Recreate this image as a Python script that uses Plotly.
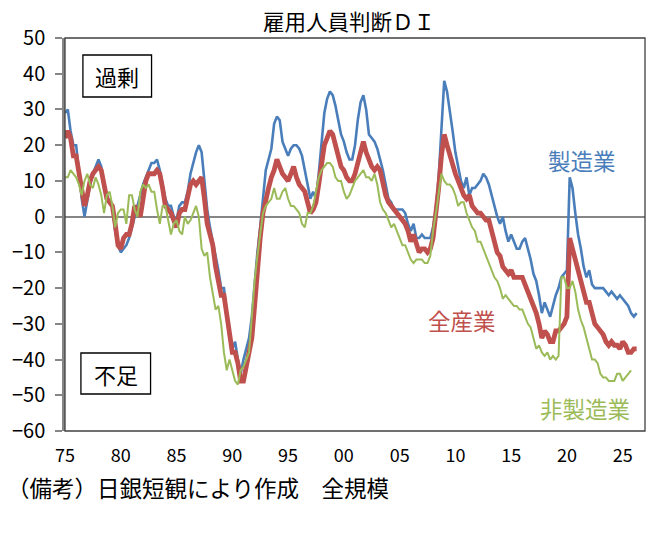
import plotly.graph_objects as go

# Quarterly categories (1975Q1 ...)
START_YEAR = 1975

# 製造業 (manufacturing) employment DI, quarterly from 1975Q1
manufacturing = [
    29, 30, 24, 20, 20, 13, 5, 0, 5, 9,
    12, 14, 16, 14, 8, 6, 4, 3, -4, -8,
    -10, -9, -8, -6, -3, 0, 3, 6, 9, 11,
    13, 15, 15, 16, 13, 9, 5, 3, 3, 0,
    -1, 3, 4, 4, 7, 12, 15, 18, 20, 18,
    10, 2, -3, -7, -10, -15, -20, -20, -27, -34,
    -37, -35, -40, -44, -40, -37, -34, -28, -18, -10,
    -3, 6, 13, 16, 19, 26, 28, 27, 21, 19,
    17, 19, 20, 20, 19, 17, 13, 9, 5, 7,
    5, 12, 20, 29, 33, 35, 34, 31, 27, 23,
    21, 18, 16, 16, 20, 27, 32, 34, 30, 23,
    22, 21, 19, 16, 13, 9, 5, 4, 2, 2,
    2, 2, 1, -2, -4, -2, -6, -6, -5, -6,
    -6, -6, -3, 2, 11, 25, 38, 35, 30, 24,
    18, 14, 10, 8, 11, 6, 8, 8, 9, 10,
    12, 11, 9, 6, 3, 0, -2, 0, -4, -7,
    -5, -7, -9, -9, -7, -6, -9, -12, -16, -18,
    -22, -27, -24, -26, -28, -25, -22, -20, -17, -16,
    -15, 11, 8, 1, -5, -9, -14, -17, -15, -19,
    -20, -20, -20, -20, -21, -22, -21, -22, -23, -22,
    -23, -24, -25, -27, -28, -27,
]

# 全産業 (all industries)
all_industries = [
    22, 24, 22, 17, 17, 12, 7, 3, 6, 10,
    12, 13, 14, 13, 9, 5, 4, 3, -2, -8,
    -9, -6, -5, -5, -2, 3, 2, 0, 5, 10,
    12, 12, 12, 13, 12, 8, 3, 2, 1, -1,
    -3, 1, 2, 2, 5, 9, 10, 9, 10, 11,
    5, -2, -5, -8, -14, -19, -22, -22, -27, -34,
    -38, -38, -41, -46, -46, -42, -38, -34, -25, -14,
    -6, 1, 5, 8, 11, 13, 16, 14, 12, 11,
    10, 12, 14, 11, 9, 8, 7, 4, 1, 2,
    4, 9, 16, 20, 22, 24, 23, 20, 16, 14,
    13, 11, 10, 10, 12, 15, 18, 21, 18, 16,
    14, 13, 14, 13, 9, 6, 4, 3, 2, 1,
    0, -1, -2, -4, -7, -5, -8, -10, -9, -9,
    -10, -9, -6, 0, 8, 17, 23, 20, 17, 14,
    12, 10, 8, 6, 5, 6, 3, 2, 1, 1,
    0, -1, -1, -4, -8, -10, -11, -14, -15, -16,
    -15, -17, -17, -17, -17, -19, -21, -23, -25, -27,
    -30, -34, -32, -33, -35, -35, -32, -32, -31, -30,
    -28, -6, -9, -12, -15, -19, -22, -24, -24, -27,
    -30, -31, -32, -33, -35, -36, -35, -36, -36, -37,
    -35, -36, -38, -38, -37, -37,
]

# 非製造業 (non-manufacturing)
non_manufacturing = [
    11, 11, 13, 12, 11, 9, 6, 10, 12, 9,
    8, 11, 9, 6, 1, 6, 7, 3, -3, 1,
    2, 2, -2, 6, 6, 2, 0, 7, 9, 8,
    9, 7, 7, 2, -2, 3, 3, -1, -5, -2,
    -1, -4, -5, 0, -2, -1, 1, 3, 0, -9,
    -11, -10, -17, -22, -26, -25, -30, -38, -43, -40,
    -43, -46, -47, -43, -42, -40, -38, -28, -18, -11,
    -5, 1, 3, 4, 5, 8, 5, 5, 7, 8,
    5, 3, 3, 2, 1, -2, -3, 1, 1, 3,
    7, 11, 13, 14, 15, 15, 14, 11, 10, 10,
    7, 5, 6, 8, 10, 11, 12, 13, 11, 11,
    10, 12, 9, 4, 2, 1, -1, -3, -2, -4,
    -6, -8, -8, -10, -12, -13, -12, -12, -12, -13,
    -13, -11, -4, 1, 6, 12, 10, 9, 9, 8,
    6, 3, 4, 4, 1, -1, -3, -4, -7, -7,
    -9, -11, -13, -15, -17, -18, -20, -23, -22, -23,
    -24, -25, -25, -26, -26, -28, -30, -31, -34, -37,
    -36, -38, -39, -38, -40, -39, -40, -39, -17, -17,
    -20, -20, -18, -21, -26, -29, -31, -34, -37, -40,
    -40, -41, -44, -45, -45, -46, -46, -46, -44, -44,
    -46, -45, -44, -43,
]

tick_years = [1975, 1980, 1985, 1990, 1995, 2000, 2005, 2010, 2015, 2020, 2025]
tick_labels = ["75", "80", "85", "90", "95", "00", "05", "10", "15", "20", "25"]

n_q = max(len(manufacturing), len(all_industries), len(non_manufacturing))
quarters = [START_YEAR + k / 4 for k in range(n_q)]

BLUE = "#4a7ebb"
RED = "#c0504d"
GREEN = "#9bbb59"
FONT = "Noto Sans CJK JP"

fig = go.Figure()
fig.add_trace(go.Scatter(x=quarters[:len(manufacturing)], y=manufacturing, mode="lines",
                         line=dict(color=BLUE, width=2.6), name="製造業"))
fig.add_trace(go.Scatter(x=quarters[:len(all_industries)], y=all_industries, mode="lines",
                         line=dict(color=RED, width=4.8), name="全産業"))
fig.add_trace(go.Scatter(x=quarters[:len(non_manufacturing)], y=non_manufacturing, mode="lines",
                         line=dict(color=GREEN, width=2), name="非製造業"))

L, R, T, B = 62, 23, 38, 107
W, H = 668, 538
pw, ph = W - L - R, H - T - B


def px2paper(px, py):
    return (px - L) / pw, (H - B - py) / ph


fig.update_layout(
    width=W, height=H, autosize=False,
    margin=dict(l=L, r=R, t=T, b=B, pad=0),
    paper_bgcolor="white", plot_bgcolor="white",
    showlegend=False,
    font=dict(family=FONT, color="#000000"),
    xaxis=dict(range=[1975, 2027], tickmode="array", tickvals=tick_years, ticktext=tick_labels,
               showgrid=False, zeroline=False, showline=False, ticks="",
               tickfont=dict(size=18, family=FONT, color="#000000"), ticklabelstandoff=12),
    yaxis=dict(range=[-60, 50], dtick=10, tick0=0, showgrid=False,
               zeroline=True, zerolinecolor="#868686", zerolinewidth=2,
               showline=True, linecolor="#868686", linewidth=2.5,
               ticks="outside", ticklen=7, tickwidth=2, tickcolor="#868686",
               tickfont=dict(size=20, family=FONT, color="#000000"), ticklabelstandoff=6),
)

# plot-area frame
fig.add_shape(type="rect", xref="paper", yref="paper", x0=0, x1=1, y0=0, y1=1,
              line=dict(color="#404040", width=1.3), layer="above")

# boxes
for (x0p, y0p, x1p, y1p) in [(80, 55, 149, 97), (78, 353, 148, 394)]:
    a0, b1 = px2paper(x0p, y0p)
    a1, b0 = px2paper(x1p, y1p)
    fig.add_shape(type="rect", xref="paper", yref="paper", x0=a0, x1=a1, y0=b0, y1=b1,
                  line=dict(color="#000000", width=1.3), fillcolor="white", layer="above")

annots = [
    ("雇用人員判断ＤＩ", 347, 21, 21.5, "#000000", "center"),
    ("過剰", 114.5, 76, 22, "#000000", "center"),
    ("不足", 113, 374, 22, "#000000", "center"),
    ("製造業", 582, 160, 22.5, BLUE, "center"),
    ("全産業", 461.5, 320, 22.5, RED, "center"),
    ("非製造業", 585, 408, 22.5, GREEN, "center"),
]
for text, cx, cy, size, color, anchor in annots:
    ax, ay = px2paper(cx, cy)
    fig.add_annotation(text=text, x=ax, y=ay, xref="paper", yref="paper", showarrow=False,
                       xanchor=anchor, yanchor="middle", font=dict(size=size, color=color, family=FONT))

fx, fy = px2paper(2, 487)
fig.add_annotation(text="（備考）日銀短観により作成　全規模", x=fx, y=fy, xref="paper", yref="paper",
                   showarrow=False, xanchor="left", yanchor="middle",
                   font=dict(size=22.5, color="#000000", family=FONT))

fig.write_html("out.html", config={"displayModeBar": False})
